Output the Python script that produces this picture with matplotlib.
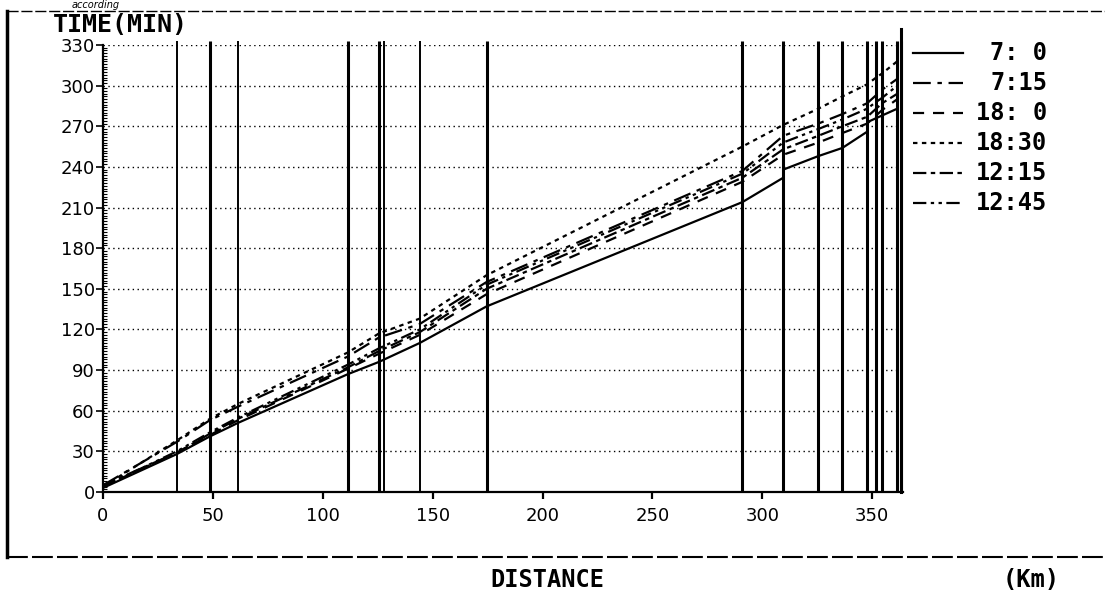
import matplotlib
matplotlib.use("Agg")
import matplotlib.pyplot as plt
from matplotlib.lines import Line2D
from matplotlib.ticker import MultipleLocator

# Station positions along the route (km)
stations_km = [33.6, 48.6, 61.4, 111.4, 125.5, 127.9, 144.1, 174.5, 290.9, 309.5,
               325.5, 336.4, 347.7, 351.8, 354.5, 361.4, 363.0]

# Running curves: cumulative time (min) at each distance (km)
km_0700 = [0, 33.6, 48.6, 61.4, 111.4, 125.5, 144.1, 174.5, 290.9, 309.5, 309.5, 325.5, 336.4, 347.7, 347.7, 361.4]
min_0700 = [3, 28, 41, 51, 87, 96, 110, 137, 214, 232, 238, 248, 254, 266, 273, 283]

km_0715 = [0, 33.6, 48.6, 61.4, 111.4, 125.5, 144.1, 174.5, 290.9, 309.5, 325.5, 336.4, 347.7, 351.8, 354.5, 361.4]
min_0715 = [5, 37, 53, 63, 100, 114, 124, 155, 237, 263, 272, 279, 287, 293, 297, 305]

km_1800 = [0, 33.6, 48.6, 61.4, 111.4, 125.5, 144.1, 174.5, 290.9, 309.5, 325.5, 336.4, 347.7, 351.8, 354.5, 361.4]
min_1800 = [4, 29, 42, 53, 91, 102, 116, 146, 229, 249, 258, 265, 272, 278, 282, 290]

km_1830 = [0, 33.6, 48.6, 61.4, 111.4, 125.5, 144.1, 174.5, 290.9, 309.5, 325.5, 336.4, 347.7, 351.8, 354.5, 361.4]
min_1830 = [4, 38, 54, 65, 103, 117, 128, 160, 255, 271, 283, 292, 301, 306, 309, 318]

km_1215 = [0, 33.6, 48.6, 61.4, 111.4, 125.5, 144.1, 174.5, 290.9, 309.5, 325.5, 336.4, 347.7, 351.8, 354.5, 361.4]
min_1215 = [5, 29, 43, 54, 92, 104, 118, 150, 232, 253, 263, 270, 277, 283, 287, 294]

km_1245 = [0, 33.6, 48.6, 61.4, 111.4, 125.5, 144.1, 174.5, 290.9, 309.5, 325.5, 336.4, 347.7, 351.8, 354.5, 361.4]
min_1245 = [4, 30, 44, 55, 94, 106, 120, 153, 235, 258, 268, 275, 283, 288, 291, 300]

series_labels = ["7: 0", "7:15", "18: 0", "18:30", "12:15", "12:45"]

x_ticks = [0, 50, 100, 150, 200, 250, 300, 350]
y_ticks = [0, 30, 60, 90, 120, 150, 180, 210, 240, 270, 300, 330]

series = [(km_0700, min_0700), (km_0715, min_0715), (km_1800, min_1800),
          (km_1830, min_1830), (km_1215, min_1215), (km_1245, min_1245)]
styles = ["-", (0, (8, 3, 2, 3)), (0, (5, 4)), (0, (2, 2)),
          (0, (6, 2, 2, 2)), (0, (6, 2, 1.5, 2, 1.5, 2))]

W, H = 1105, 612
fig = plt.figure(figsize=(W / 100, H / 100), dpi=100)
ax = fig.add_axes([103 / W, 1 - 492 / H, 800 / W, 447 / H])
ax.set_xlim(0, 364)
ax.set_ylim(0, 330)

# horizontal dotted grid
for yv in y_ticks[1:]:
    ax.axhline(yv, color="black", lw=1.0, ls=(0, (1, 2.5)), zorder=1)

# station lines
thick = (48.6, 111.4, 125.5, 174.5)
for s in stations_km:
    lw = 2.2 if s > 280 or s in thick else 1.4
    ax.plot([s, s], [0, 333], color="black", lw=lw, clip_on=False, zorder=2,
            solid_capstyle="butt")
ax.plot([stations_km[-1], stations_km[-1]], [0, 342], color="black", lw=2.2,
        clip_on=False, zorder=2)

for (xk, ym), st in zip(series, styles):
    ax.plot(xk, ym, color="black", lw=1.6, ls=st, zorder=3)

ax.spines["top"].set_visible(False)
ax.spines["right"].set_visible(False)
ax.spines["left"].set_linewidth(1.6)
ax.spines["bottom"].set_linewidth(1.6)
ax.spines["bottom"].set_linestyle((0, (6, 1)))

ax.set_xticks(x_ticks)
ax.set_yticks(y_ticks)
ax.yaxis.set_minor_locator(MultipleLocator(2))
ax.tick_params(axis="y", which="major", direction="out", length=5, width=1.2,
               pad=1, labelsize=13)
ax.tick_params(axis="y", which="minor", direction="in", length=3, width=0.8)
ax.tick_params(axis="x", which="major", direction="out", length=5, width=1.6,
               pad=6, labelsize=13)

mono = "DejaVu Sans Mono"
fig.text(53 / W, 1 - 32 / H, "TIME(MIN)", fontsize=18, fontweight="bold",
         family=mono, ha="left", va="baseline")
fig.text(72 / W, 1 - 0.5 / H, "according", fontsize=7, style="italic",
         ha="left", va="top")
fig.text(490 / W, 1 - 587 / H, "DISTANCE", fontsize=17, fontweight="bold",
         family=mono, ha="left", va="baseline")
fig.text(1003 / W, 1 - 587 / H, "(Km)", fontsize=17, fontweight="bold",
         family=mono, ha="left", va="baseline")

# legend drawn beside the plot
for i, (lab, st) in enumerate(zip(series_labels, styles)):
    yy = 1 - (53 + 30 * i) / H
    fig.add_artist(Line2D([913 / W, 963 / W], [yy, yy], color="black", lw=1.6,
                          ls=st, transform=fig.transFigure))
    fig.text(1047 / W, yy, lab, fontsize=17, fontweight="bold", family=mono,
             ha="right", va="center")

# outer frame
fig.add_artist(Line2D([7 / W, 7 / W], [1 - 11 / H, 1 - 557 / H], color="black",
                      lw=2.5, transform=fig.transFigure))
fig.add_artist(Line2D([7 / W, 1], [1 - 11 / H, 1 - 11 / H], color="black",
                      lw=1.0, ls=(0, (8, 2)), transform=fig.transFigure))
fig.add_artist(Line2D([7 / W, 1], [1 - 557 / H, 1 - 557 / H], color="black",
                      lw=1.5, ls=(0, (10, 2)), transform=fig.transFigure))

fig.savefig("out.png", dpi=100)
